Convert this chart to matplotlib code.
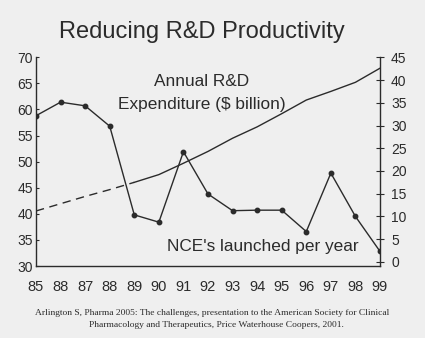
import matplotlib.pyplot as plt

# x-axis labels as printed in the source (typos kept)
years = ['85', '88', '87', '88', '89', '90', '91', '92', '93', '94', '95', '96', '97', '98', '99']

# new chemical entities launched per year (left axis)
nce = [58.8, 61.4, 60.7, 56.8, 39.8, 38.4, 51.9, 43.8, 40.6, 40.7, 40.7, 36.6, 47.8, 39.5, 32.8]

# annual R&D expenditure, $ billion (right axis)
rnd = [11.2, 12.8, 14.4, 15.9, 17.5, 19.2, 21.7, 24.3, 27.2, 29.7, 32.6, 35.6, 37.5, 39.5, 42.6]
n_dashed = 5  # first points drawn dashed

ink = '#2b2b2b'
bg = '#efefef'
plt.rcParams['font.family'] = ['Liberation Sans', 'DejaVu Sans']

fig = plt.figure(figsize=(4.25, 3.38), dpi=100, facecolor=bg)
ax = fig.add_axes([36/425, 1-266/338, 344/425, (266-57.3)/338])
ax.set_facecolor(bg)
x = list(range(len(years)))

ax.plot(x, nce, color=ink, lw=1.0, marker='o', ms=3.2)
ax.set_ylim(30, 70)
ax.set_xlim(0, 14)
ax.set_yticks(range(30, 71, 5))
ax.set_xticks(x)
ax.set_xticklabels(years)
ax.tick_params(axis='y', direction='in', length=2.5, width=0.8, pad=2, labelsize=10, colors=ink)
ax.tick_params(axis='x', length=0, pad=10, labelsize=10.5, colors=ink)
ax.spines['top'].set_visible(False)
ax.spines['right'].set_visible(False)
for s in ['left', 'bottom']:
    ax.spines[s].set_color(ink)
    ax.spines[s].set_linewidth(1.0)

ax2 = ax.twinx()
ax2.plot(x[:n_dashed], rnd[:n_dashed], color=ink, lw=1.0, dashes=(6, 4))
ax2.plot(x[n_dashed-1:], rnd[n_dashed-1:], color=ink, lw=1.0)
ax2.set_ylim(-0.9, 45)
ax2.set_yticks(range(0, 46, 5))
ax2.tick_params(axis='y', direction='inout', length=6, width=0.8, pad=5, labelsize=10, colors=ink)
for s in ['top', 'left', 'bottom']:
    ax2.spines[s].set_visible(False)
ax2.spines['right'].set_color(ink)
ax2.spines['right'].set_linewidth(1.0)

fig.text(202/425, 1-32/338, 'Reducing R&D Productivity', ha='center', va='center', fontsize=17, color=ink)
fig.text(202/425, 1-82/338, 'Annual R&D', ha='center', va='center', fontsize=12.4, color=ink)
fig.text(202/425, 1-105/338, 'Expenditure ($ billion)', ha='center', va='center', fontsize=12.4, color=ink)
fig.text(263/425, 1-247/338, "NCE's launched per year", ha='center', va='center', fontsize=12.4, color=ink)

serif = ['Liberation Serif', 'DejaVu Serif']
fig.text(212/425, 1-313/338,
         'Arlington S, Pharma 2005: The challenges, presentation to the American Society for Clinical',
         ha='center', va='center', fontsize=6.8, color=ink, family=serif)
fig.text(216/425, 1-325/338,
         'Pharmacology and Therapeutics, Price Waterhouse Coopers, 2001.',
         ha='center', va='center', fontsize=6.8, color=ink, family=serif)

fig.savefig('out.png', dpi=100, facecolor=bg)
